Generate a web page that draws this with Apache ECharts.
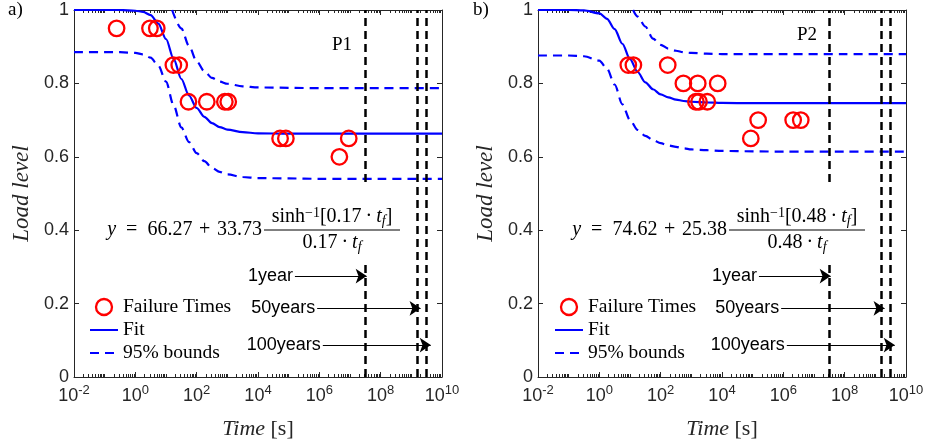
<!DOCTYPE html>
<html><head><meta charset="utf-8">
<script src="https://cdn.jsdelivr.net/npm/echarts@6/dist/echarts.min.js"></script>
<style>html,body{margin:0;padding:0;background:#fff}#c{width:930px;height:443px}</style>
</head><body><div id="c"></div>
<script>
// ---------- data ----------
const timeA = [0.245, 3.0, 5.0, 17.4, 27, 54, 214, 830, 1070, 52500, 81000, 4.5e6, 9.1e6];
const loadA = [0.95, 0.95, 0.95, 0.85, 0.85, 0.75, 0.75, 0.75, 0.75, 0.65, 0.65, 0.60, 0.65];
const timeB = [8.8, 12.9, 170, 550, 1620, 7240, 1410, 1780, 3310, 87000, 151000, 2.09e6, 3.7e6];
const loadB = [0.85, 0.85, 0.85, 0.80, 0.80, 0.80, 0.75, 0.75, 0.75, 0.65, 0.70, 0.70, 0.70];

const curveTime = [0.01, 0.1, 0.316, 1, 1.78, 3.16, 5.62, 10, 17.8, 31.6, 56.2, 100, 178, 316, 562, 1000, 3162, 1e4, 1e5, 1e6, 1e8, 1e10];
const fitA   = [1.000, 1.000, 1.000, 0.998, 0.995, 0.986, 0.963, 0.921, 0.866, 0.812, 0.767, 0.733, 0.709, 0.692, 0.681, 0.674, 0.667, 0.664, 0.663, 0.663, 0.663, 0.663];
const lowerA = [0.885, 0.885, 0.885, 0.883, 0.879, 0.870, 0.848, 0.805, 0.740, 0.680, 0.640, 0.610, 0.588, 0.570, 0.559, 0.552, 0.545, 0.542, 0.541, 0.540, 0.540, 0.540];
const fitB   = [1.000, 1.000, 0.999, 0.991, 0.976, 0.948, 0.908, 0.866, 0.831, 0.803, 0.784, 0.770, 0.762, 0.756, 0.752, 0.750, 0.748, 0.747, 0.746, 0.746, 0.746, 0.746];
const lowerB = [0.876, 0.876, 0.874, 0.862, 0.840, 0.797, 0.743, 0.700, 0.673, 0.657, 0.646, 0.637, 0.631, 0.627, 0.623, 0.620, 0.618, 0.616, 0.615, 0.614, 0.614, 0.614];

const upperTimeA = [15.8, 31.6, 56.2, 100, 178, 316, 562, 1000, 3162, 1e4, 1e5, 1e6, 1e8, 1e10];
const upperA     = [1.000, 0.950, 0.902, 0.860, 0.833, 0.815, 0.805, 0.799, 0.792, 0.789, 0.788, 0.787, 0.787, 0.787];
const upperTimeB = [12.6, 17.8, 31.6, 56.2, 100, 178, 316, 562, 1000, 3162, 1e4, 1e5, 1e6, 1e8, 1e10];
const upperB     = [1.000, 0.982, 0.955, 0.922, 0.905, 0.895, 0.889, 0.885, 0.883, 0.881, 0.880, 0.880, 0.880, 0.880, 0.880];

const yearSeconds = [3.1536e7, 1.5768e9, 3.1536e9];
const arrowLabels = ['1year', '50years', '100years'];
const arrowStart = [1.6e5, 8.5e5, 1.3e6];
const arrowEnd = [3.5e7, 2.0e9, 4.3e9];
const arrowLoad = [0.275, 0.187, 0.087];

const xTickExp = [-2, 0, 2, 4, 6, 8, 10];
const yTicks = [0, 0.2, 0.4, 0.6, 0.8, 1];
const panelLabels = ['a)', 'b)'];
const pointLabels = ['P1', 'P2'];
const formulaMain = ['66.27 + 33.73', '74.62 + 25.38'];
const formulaK = ['0.17', '0.48'];

// ---------- layout ----------
const AX = '#262626';
const grids = [
  {left: 74, top: 10, width: 368, height: 367, outerBoundsMode: 'none'},
  {left: 538, top: 10, width: 368, height: 367, outerBoundsMode: 'none'}
];
const minorTicks = [];
for (let n = -2; n < 10; n++) {
  for (let k = 2; k <= 10; k++) {
    if (k === 10 && (n + 1) % 2 === 0) continue;
    minorTicks.push(n + Math.log10(k));
  }
}
const xAxes = [], yAxes = [], series = [], graphics = [], legends = [];
const panels = [
  {t: timeA, l: loadA, fit: fitA, low: lowerA, upT: upperTimeA, up: upperA},
  {t: timeB, l: loadB, fit: fitB, low: lowerB, upT: upperTimeB, up: upperB}
];
const serif = 'Liberation Serif', sans = 'Liberation Sans';

panels.forEach((P, p) => {
  const dataX = xAxes.length;
  xAxes.push({type: 'log', logBase: 10, gridIndex: p, min: 0.01, max: 1e10, show: false, axisLine: {onZero: false}});
  const tickBase = {type: 'value', gridIndex: p, min: -2, max: 10, splitLine: {show: false}};
  xAxes.push(Object.assign({}, tickBase, {
    position: 'bottom',
    axisLine: {show: true, onZero: false, lineStyle: {color: AX, width: 1}},
    axisTick: {show: true, inside: true, length: 5, customValues: xTickExp, lineStyle: {color: AX}},
    axisLabel: {show: true, customValues: xTickExp, margin: 7, color: AX,
      formatter: v => '{b|10}{s|' + v + '}',
      rich: {b: {fontFamily: sans, fontSize: 18, lineHeight: 24, color: AX},
             s: {fontFamily: sans, fontSize: 13, lineHeight: 13, verticalAlign: 'top', color: AX}}},
    name: '{i|Time} [s]', nameLocation: 'middle', nameGap: 41,
    nameTextStyle: {fontFamily: serif, fontSize: 22, color: AX,
      rich: {i: {fontFamily: serif, fontStyle: 'italic', fontSize: 22, color: AX}}}
  }));
  xAxes.push(Object.assign({}, tickBase, {
    position: 'bottom', axisLine: {show: false, onZero: false}, axisLabel: {show: false},
    axisTick: {show: true, inside: true, length: 3, customValues: minorTicks, lineStyle: {color: AX}}
  }));
  xAxes.push(Object.assign({}, tickBase, {
    position: 'top', axisLine: {show: true, onZero: false, lineStyle: {color: AX, width: 1}}, axisLabel: {show: false},
    axisTick: {show: true, inside: true, length: 5, customValues: xTickExp, lineStyle: {color: AX}}
  }));
  xAxes.push(Object.assign({}, tickBase, {
    position: 'top', axisLine: {show: false, onZero: false}, axisLabel: {show: false},
    axisTick: {show: true, inside: true, length: 3, customValues: minorTicks, lineStyle: {color: AX}}
  }));

  const dataY = yAxes.length;
  yAxes.push({type: 'value', gridIndex: p, position: 'left', min: 0, max: 1,
    splitLine: {show: false},
    axisLine: {show: true, onZero: false, lineStyle: {color: AX, width: 1}},
    axisTick: {show: true, inside: true, length: 5, customValues: yTicks, lineStyle: {color: AX}},
    axisLabel: {show: true, customValues: yTicks, margin: 5, color: AX, fontFamily: sans, fontSize: 18},
    name: 'Load level', nameLocation: 'middle', nameGap: 41,
    nameTextStyle: {fontFamily: serif, fontStyle: 'italic', fontSize: 23, color: AX}
  });
  yAxes.push({type: 'value', gridIndex: p, position: 'right', min: 0, max: 1,
    splitLine: {show: false},
    axisLine: {show: true, onZero: false, lineStyle: {color: AX, width: 1}},
    axisTick: {show: true, inside: true, length: 5, customValues: yTicks, lineStyle: {color: AX}},
    axisLabel: {show: false}
  });

  const common = {xAxisIndex: dataX, yAxisIndex: dataY, silent: true, animation: false};
  series.push(Object.assign({}, common, {
    type: 'line', name: 'Fit', symbol: 'none', smooth: 0.3, smoothMonotone: 'x',
    data: curveTime.map((t, i) => [t, P.fit[i]]),
    lineStyle: {color: '#0000ff', width: 2.2}, itemStyle: {color: '#0000ff'}, z: 3,
    markLine: {silent: true, symbol: 'none', animation: false,
      lineStyle: {color: '#000', type: [8, 5], width: 2.5},
      label: {show: false},
      data: yearSeconds.map(v => ({xAxis: v}))}
  }));
  series.push(Object.assign({}, common, {
    type: 'line', name: '95% bounds', symbol: 'none', smooth: 0.3, smoothMonotone: 'x',
    data: P.upT.map((t, i) => [t, P.up[i]]),
    lineStyle: {color: '#0000ff', width: 2.2, type: [9, 6]}, itemStyle: {color: '#0000ff'}, z: 3
  }));
  series.push(Object.assign({}, common, {
    type: 'line', name: '95% bounds', symbol: 'none', smooth: 0.3, smoothMonotone: 'x',
    data: curveTime.map((t, i) => [t, P.low[i]]),
    lineStyle: {color: '#0000ff', width: 2.2, type: [9, 6]}, itemStyle: {color: '#0000ff'}, z: 3
  }));
  series.push(Object.assign({}, common, {
    type: 'scatter', name: 'Failure Times', symbol: 'circle', symbolSize: 15.5,
    data: P.t.map((t, i) => [t, P.l[i]]),
    itemStyle: {color: 'rgba(0,0,0,0)', borderColor: '#ff0000', borderWidth: 2.3, opacity: 1}, z: 4,
    markLine: {silent: true, animation: false, symbol: ['none', 'arrow'], symbolSize: 11,
      lineStyle: {color: '#000', type: 'solid', width: 1},
      label: {show: true, position: 'start', distance: 2, formatter: '{b}',
        fontFamily: sans, fontSize: 18, color: '#000'},
      data: arrowLabels.map((n, i) => [
        {name: n, coord: [arrowStart[i], arrowLoad[i]]},
        {coord: [arrowEnd[i], arrowLoad[i]]}
      ])}
  }));

  const dx = p * 465;
  const hide = {color: 'rgba(0,0,0,0)', borderWidth: 0, opacity: 0};
  legends.push({show: true, orient: 'vertical', left: 89 + dx, top: 297, itemWidth: 28, itemHeight: 16,
    itemGap: 3, selectedMode: false, padding: 0,
    textStyle: {fontFamily: serif, fontSize: 19.5, color: '#000', lineHeight: 20},
    data: [
      {name: 'Failure Times', itemStyle: {color: 'rgba(0,0,0,0)', borderColor: '#ff0000', borderWidth: 2.3, opacity: 1}},
      {name: 'Fit', itemStyle: hide}, {name: '95% bounds', itemStyle: hide}
    ]});

  graphics.push({type: 'text', x: 8 + dx, y: 10, z: 100,
    style: {text: panelLabels[p], fontFamily: serif, fontSize: 19, fill: '#000', verticalAlign: 'middle'}});
  graphics.push({type: 'text', x: p === 0 ? 342 : 807, y: p === 0 ? 45 : 35, z: 100,
    style: {text: pointLabels[p], fontFamily: serif, fontSize: 19, fill: '#000', align: 'center', verticalAlign: 'middle'}});
  const fr = {n: {fontFamily: serif, fontSize: 20, lineHeight: 22, fill: '#000'},
    i: {fontFamily: serif, fontStyle: 'italic', fontSize: 20, lineHeight: 22, fill: '#000'},
    sup: {fontFamily: serif, fontSize: 14, lineHeight: 14, verticalAlign: 'top', fill: '#000'},
    sub: {fontFamily: serif, fontStyle: 'italic', fontSize: 14, lineHeight: 12, verticalAlign: 'bottom', fill: '#000'}};
  graphics.push({type: 'rect', z: 99, shape: {x: 100 + dx, y: 183, width: 306, height: 78}, style: {fill: '#fff'}});
  graphics.push({type: 'text', z: 100, x: 262 + dx, y: 230,
    style: {text: '{i|y}{n|\u2002=\u2002' + formulaMain[p].replace(' + ', '\u2004+\u2004') + '}', rich: fr, align: 'right', verticalAlign: 'middle'}});
  graphics.push({type: 'line', z: 100, shape: {x1: 264 + dx, y1: 230, x2: 400 + dx, y2: 230}, style: {stroke: '#000', lineWidth: 1}});
  graphics.push({type: 'text', z: 100, x: 332 + dx, y: 217,
    style: {text: '{n|sinh}{sup|\u22121}{n|[' + formulaK[p] + '\u2009\u00b7\u2009}{i|t}{sub|f}{n|]}', rich: fr, align: 'center', verticalAlign: 'middle'}});
  graphics.push({type: 'text', z: 100, x: 332 + dx, y: 243,
    style: {text: '{n|' + formulaK[p] + '\u2009\u00b7\u2009}{i|t}{sub|f}', rich: fr, align: 'center', verticalAlign: 'middle'}});
});

const chart = echarts.init(document.getElementById('c'), null, {renderer: 'canvas'});
chart.setOption({
  animation: false,
  backgroundColor: '#fff',
  grid: grids,
  xAxis: xAxes,
  yAxis: yAxes,
  legend: legends,
  series: series,
  graphic: {elements: graphics}
});
</script></body></html>
